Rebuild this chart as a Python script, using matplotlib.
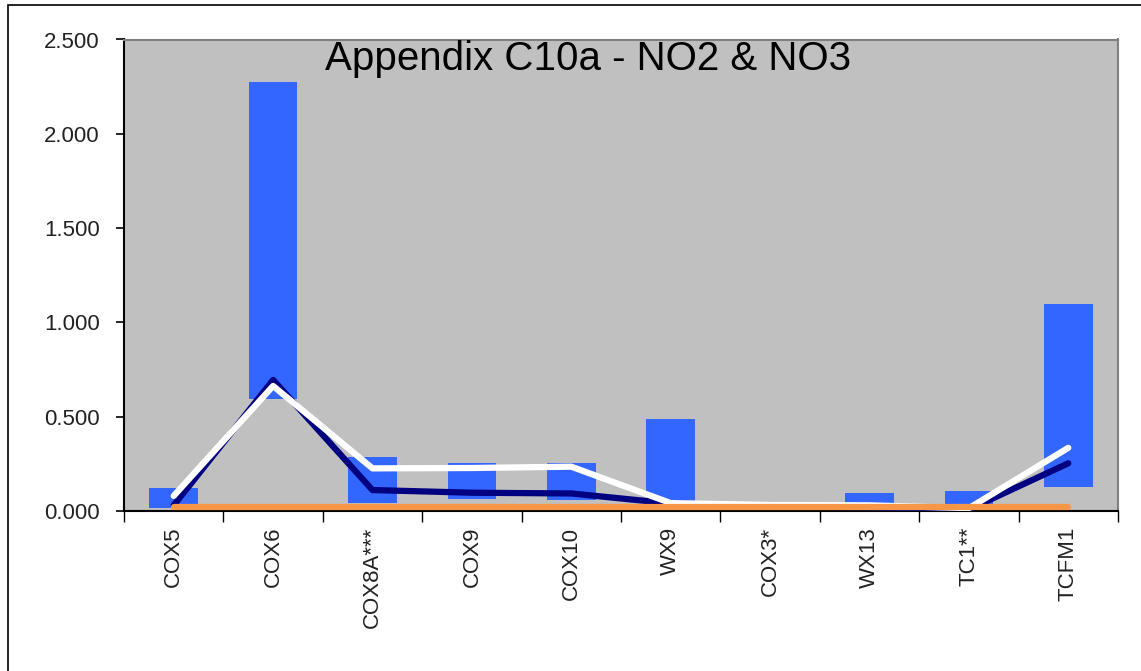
import matplotlib
matplotlib.use("Agg")
import matplotlib.pyplot as plt
import numpy as np
from matplotlib.patches import Rectangle

plt.rcParams["font.family"] = ["Liberation Sans", "DejaVu Sans"]

# Sites along the x axis
sites = ["COX5", "COX6", "COX8A***", "COX9", "COX10", "WX9", "COX3*", "WX13", "TC1**", "TCFM1"]

# Range of measured values per site (floating bars: low to high)
range_low = [0.016, 0.594, 0.041, 0.064, 0.057, 0.020, 0.010, 0.020, 0.010, 0.126]
range_high = [0.124, 2.276, 0.285, 0.256, 0.256, 0.486, 0.020, 0.094, 0.108, 1.096]

# Summary series drawn as lines
median_vals = [0.030, 0.695, 0.111, 0.097, 0.093, 0.040, 0.025, 0.020, 0.008, 0.253]
mean_vals = [0.080, 0.663, 0.226, 0.228, 0.235, 0.042, 0.032, 0.030, 0.015, 0.335]
limit_vals = [0.022] * len(sites)

y_ticks = [0.0, 0.5, 1.0, 1.5, 2.0, 2.5]
y_tick_labels = ["0.000", "0.500", "1.000", "1.500", "2.000", "2.500"]
title_text = "Appendix C10a - NO2 & NO3"

W, H = 1141, 671
fig = plt.figure(figsize=(W / 100, H / 100), dpi=100)
fig.patch.set_facecolor("white")

# outer chart frame
fig.add_artist(Rectangle((8 / W, -0.01), 1.2, 1 - 5 / H + 0.01, transform=fig.transFigure,
                         fill=False, edgecolor="black", linewidth=1.2))

left, right = 124 / W, 1118 / W
bottom, top = 1 - 511 / H, 1 - 39.5 / H
ax = fig.add_axes([left, bottom, right - left, top - bottom])
ax.set_facecolor("#C0C0C0")

x = np.arange(len(sites))
heights = [h - l for h, l in zip(range_high, range_low)]
ax.bar(x, heights, bottom=range_low, width=0.49, color="#3366FF", zorder=2)

ax.plot(x, median_vals, color="#000080", lw=4.5, solid_capstyle="round",
        solid_joinstyle="round", zorder=3)
ax.plot(x, mean_vals, color="white", lw=4.5, solid_capstyle="round",
        solid_joinstyle="round", zorder=4)
ax.plot(x, limit_vals, color="#F79646", lw=4.5, solid_capstyle="round", zorder=5)

ax.set_xlim(-0.5, len(sites) - 0.5)
ax.set_ylim(0, 2.5)

ax.set_yticks(y_ticks)
ax.set_yticklabels(y_tick_labels, fontsize=16, color="#222222")
ax.tick_params(axis="y", length=6, width=1.2, pad=11.5, direction="out")

# category boundaries carry the tick marks, labels sit at centres
ax.set_xticks(np.arange(len(sites) + 1) - 0.5)
ax.set_xticklabels([])
ax.tick_params(axis="x", which="major", length=8, width=1.0, direction="out")
ax.set_xticks(x, minor=True)
ax.set_xticklabels(sites, minor=True, rotation=90, fontsize=16, va="top", ha="center",
                   color="#222222")
ax.tick_params(axis="x", which="minor", length=0, pad=11.5)

for side in ("top", "right"):
    ax.spines[side].set_color("#808080")
    ax.spines[side].set_linewidth(1.5)
for side in ("left", "bottom"):
    ax.spines[side].set_color("black")
    ax.spines[side].set_linewidth(1.5)

# title sits inside the plot area
fig.text(325 / W, 1 - 70 / H, title_text, ha="left", va="baseline",
         fontsize=29, color="black", zorder=6)

fig.savefig("out.png", dpi=100)
